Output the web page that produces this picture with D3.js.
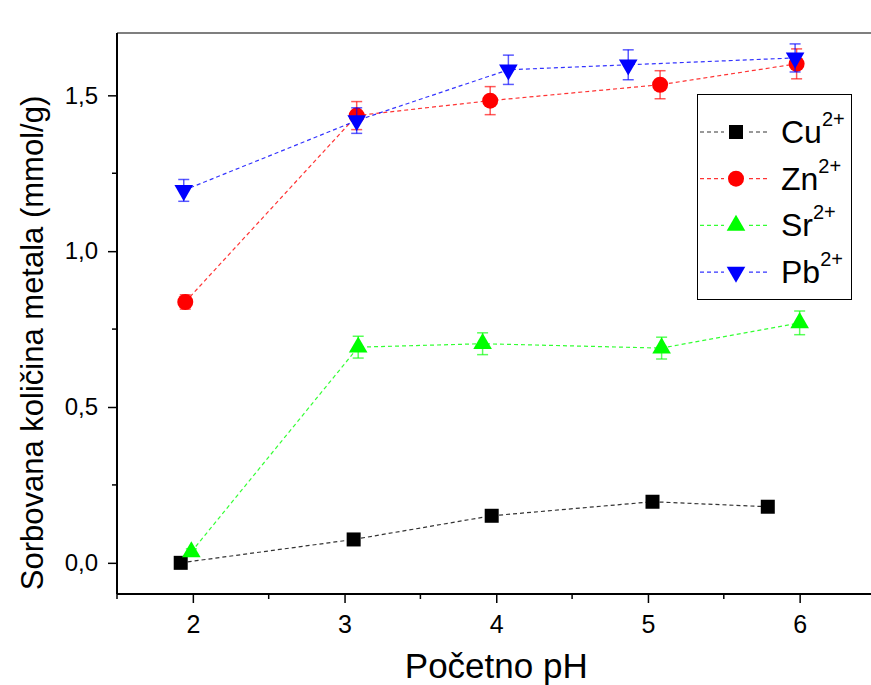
<!DOCTYPE html>
<html>
<head>
<meta charset="utf-8">
<script src="https://cdn.jsdelivr.net/npm/d3@7"></script>
<style>
  body { margin: 0; background: #fff; }
  text { font-family: "Liberation Sans", Arial, sans-serif; }
</style>
</head>
<body>
<div id="chart"></div>
<script>
// data
const cuX = [1.92, 3.06, 3.97, 5.03, 5.79];
const cuY = [0.0, 0.075, 0.151, 0.196, 0.18];
const cuErr = [0.005, 0.005, 0.005, 0.005, 0.005];

const znX = [1.95, 3.08, 3.96, 5.08, 5.98];
const znY = [0.837, 1.435, 1.483, 1.534, 1.601];
const znErr = [0.023, 0.045, 0.045, 0.045, 0.048];

const srX = [1.99, 3.09, 3.91, 5.09, 6.0];
const srY = [0.035, 0.692, 0.703, 0.689, 0.77];
const srErr = [0.01, 0.035, 0.035, 0.035, 0.038];

const pbX = [1.94, 3.08, 4.08, 4.87, 5.97];
const pbY = [1.195, 1.419, 1.582, 1.598, 1.62];
const pbErr = [0.035, 0.041, 0.047, 0.048, 0.045];

const ionNames = ["Cu", "Zn", "Sr", "Pb"];
const xTicks = [2, 3, 4, 5, 6];
const yTicks = [0, 0.5, 1.0, 1.5];

const xLabel = "Početno pH";
const yLabel = "Sorbovana količina metala (mmol/g)";

const series = [
    {name: ionNames[0], x: cuX, y: cuY, err: cuErr, color: "#000000", shape: "square"},
    {name: ionNames[1], x: znX, y: znY, err: znErr, color: "#ff0000", shape: "circle"},
    {name: ionNames[2], x: srX, y: srY, err: srErr, color: "#00ff00", shape: "up"},
    {name: ionNames[3], x: pbX, y: pbY, err: pbErr, color: "#0000ff", shape: "down"}
];

const W = 871, H = 685;
const pLeft = 117, pTop = 33, pBottom = 594, pRight = 875.5;

const svg = d3.select("#chart").append("svg")
    .attr("width", W)
    .attr("height", H);

const x = d3.scaleLinear().domain([1.5, 6.5]).range([pLeft, pRight]);
const y = d3.scaleLinear().domain([-0.1, 1.7]).range([pBottom, pTop]);

// frame top line (grey)
svg.append("line")
    .attr("x1", pLeft).attr("x2", W)
    .attr("y1", pTop).attr("y2", pTop)
    .attr("stroke", "#7f7f7f").attr("stroke-width", 2);

// minor ticks
const xMinor = [1.5, 2.5, 3.5, 4.5, 5.5];
svg.append("g").selectAll("line").data(xMinor).enter().append("line")
    .attr("x1", d => x(d)).attr("x2", d => x(d))
    .attr("y1", pBottom).attr("y2", pBottom + 5)
    .attr("stroke", "#000").attr("stroke-width", 1.5);

const yMinor = [0.25, 0.75, 1.25];
svg.append("g").selectAll("line").data(yMinor).enter().append("line")
    .attr("x1", pLeft - 5).attr("x2", pLeft)
    .attr("y1", d => y(d)).attr("y2", d => y(d))
    .attr("stroke", "#000").attr("stroke-width", 1.5);

// axes
const xAxis = svg.append("g")
    .attr("transform", `translate(0,${pBottom})`)
    .call(d3.axisBottom(x).tickValues(xTicks).tickSize(9).tickPadding(12).tickSizeOuter(0).tickFormat(d3.format("d")));
const yAxis = svg.append("g")
    .attr("transform", `translate(${pLeft},0)`)
    .call(d3.axisLeft(y).tickValues(yTicks).tickSize(9).tickPadding(10).tickSizeOuter(0)
        .tickFormat(d => d3.format(".1f")(d).replace(".", ",")));

[xAxis, yAxis].forEach(a => {
    a.select(".domain").attr("stroke", "#000").attr("stroke-width", 2);
    a.selectAll(".tick line").attr("stroke", "#000").attr("stroke-width", 1.5);
    a.selectAll(".tick text").attr("fill", "#000");
});
xAxis.selectAll(".tick text").attr("font-size", 25).attr("font-family", "Carlito, Lato, sans-serif");
yAxis.selectAll(".tick text").attr("font-size", 24).attr("font-family", "Liberation Sans, Arial, sans-serif");
// stretch the x axis line to the right edge
xAxis.select(".domain").attr("d", `M${pLeft},0H${W}`);
yAxis.select(".domain").attr("d", `M0,${pBottom}V${pTop}`);

// axis titles
svg.append("text")
    .attr("x", (pLeft + pRight) / 2).attr("y", 678)
    .attr("text-anchor", "middle")
    .attr("font-family", "Carlito, Lato, sans-serif")
    .attr("font-size", 35)
    .text(xLabel);

svg.append("text")
    .attr("transform", `translate(43,343) rotate(-90)`)
    .attr("text-anchor", "middle")
    .attr("font-family", "Open Sans, sans-serif")
    .attr("font-size", 31)
    .text(yLabel);

// marker helper
function marker(sel, shape, color) {
    if (shape === "circle") {
        sel.append("circle").attr("r", 8).attr("fill", color);
    } else if (shape === "square") {
        sel.append("rect").attr("x", -7).attr("y", -7).attr("width", 14).attr("height", 14).attr("fill", color);
    } else {
        sel.append("path")
            .attr("d", d3.symbol().type(d3.symbolTriangle).size(150)())
            .attr("transform", shape === "down" ? "rotate(180)" : null)
            .attr("fill", color);
    }
}

const line = d3.line().x(d => x(d.x)).y(d => y(d.y));

series.forEach(s => {
    const pts = s.x.map((v, i) => ({x: v, y: s.y[i], e: s.err[i]}));
    const g = svg.append("g");

    g.append("path")
        .datum(pts)
        .attr("d", line)
        .attr("fill", "none")
        .attr("stroke", s.color)
        .attr("stroke-opacity", 0.8)
        .attr("stroke-width", 1.2)
        .attr("stroke-dasharray", "4,3");

    // error bars
    const eb = g.selectAll(".err").data(pts).enter().append("g")
        .attr("stroke", s.color).attr("stroke-opacity", 0.65).attr("stroke-width", 1.5);
    eb.append("line")
        .attr("x1", d => x(d.x)).attr("x2", d => x(d.x))
        .attr("y1", d => y(d.y - d.e)).attr("y2", d => y(d.y + d.e));
    eb.append("line")
        .attr("x1", d => x(d.x) - 5.5).attr("x2", d => x(d.x) + 5.5)
        .attr("y1", d => y(d.y + d.e)).attr("y2", d => y(d.y + d.e));
    eb.append("line")
        .attr("x1", d => x(d.x) - 5.5).attr("x2", d => x(d.x) + 5.5)
        .attr("y1", d => y(d.y - d.e)).attr("y2", d => y(d.y - d.e));

    const m = g.selectAll(".pt").data(pts).enter().append("g")
        .attr("transform", d => `translate(${x(d.x)},${y(d.y)})`);
    marker(m, s.shape, s.color);
});

// legend
const legend = svg.append("g");
legend.append("rect")
    .attr("x", 697.5).attr("y", 94.5).attr("width", 154).attr("height", 205)
    .attr("fill", "#fff").attr("stroke", "#000").attr("stroke-width", 1);

series.forEach((s, i) => {
    const ly = 132 + i * 46.7;
    const row = legend.append("g");
    row.append("line")
        .attr("x1", 700).attr("x2", 767).attr("y1", ly).attr("y2", ly)
        .attr("stroke", s.color).attr("stroke-opacity", 0.8)
        .attr("stroke-width", 1.2).attr("stroke-dasharray", "4,3");
    const mk = row.append("g").attr("transform", `translate(736,${ly})`);
    mk.append("rect").attr("x", -12).attr("y", -8).attr("width", 24).attr("height", 16).attr("fill", "#fff");
    marker(mk, s.shape, s.color);
    const t = row.append("text")
        .attr("x", 781).attr("y", ly + 11)
        .attr("font-size", 32);
    t.append("tspan").text(s.name);
    t.append("tspan").attr("font-size", 20).attr("dy", -17).text("2+");
});
</script>
</body>
</html>
